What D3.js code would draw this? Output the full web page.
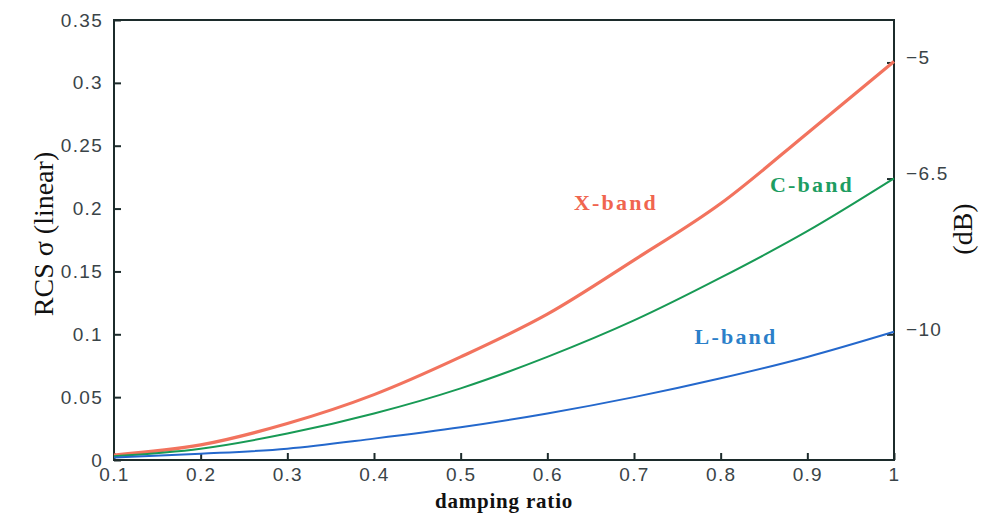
<!DOCTYPE html>
<html>
<head>
<meta charset="utf-8">
<script src="https://cdn.jsdelivr.net/npm/d3@7"></script>
<style>
  body { margin: 0; background: #fff; }
  svg { display: block; }
</style>
</head>
<body>
<svg></svg>
<script>
// RCS vs damping ratio, three radar bands

var width = 982;
var height = 516;
var margin = {left: 114, right: 88, top: 20, bottom: 56};

// data
var damping = [0.1, 0.2, 0.3, 0.4, 0.5, 0.6, 0.7, 0.8, 0.9, 1.0];
var xBand = [0.004, 0.012, 0.029, 0.052, 0.082, 0.116, 0.159, 0.204, 0.260, 0.317];
var cBand = [0.003, 0.009, 0.021, 0.037, 0.057, 0.082, 0.111, 0.145, 0.182, 0.224];
var lBand = [0.002, 0.005, 0.009, 0.017, 0.026, 0.037, 0.050, 0.065, 0.082, 0.102];
var xTicks = [0.1, 0.2, 0.3, 0.4, 0.5, 0.6, 0.7, 0.8, 0.9, 1];
var yTicks = [0, 0.05, 0.1, 0.15, 0.2, 0.25, 0.3, 0.35];
var dbTicks = [-5, -6.5, -10];

var series = [
  {name: "X-band", values: xBand, color: "#f2735e", width: 3.2, labelColor: "#f0654f", lx: 616, ly: 205},
  {name: "C-band", values: cBand, color: "#189a55", width: 2, labelColor: "#1d9d62", lx: 812, ly: 187},
  {name: "L-band", values: lBand, color: "#2468cc", width: 2, labelColor: "#2b7fc9", lx: 736, ly: 339}
];

var svg = d3.select("svg")
      .attr("width", width)
      .attr("height", height);

var xScale = d3.scaleLinear()
      .domain([0.1, 1])
      .range([margin.left, width - margin.right]);
var yScale = d3.scaleLinear()
      .domain([0, 0.35])
      .range([height - margin.bottom, margin.top]);

var axisColor = "#1c2b2b";
var tickFont = "'Liberation Sans', Arial, sans-serif";
var serif = "'Liberation Serif', 'Times New Roman', serif";

// frame
svg.append("rect")
      .attr("x", margin.left)
      .attr("y", margin.top)
      .attr("width", width - margin.left - margin.right)
      .attr("height", height - margin.top - margin.bottom)
      .attr("fill", "none")
      .attr("stroke", axisColor)
      .attr("stroke-width", 2);

// bottom axis, ticks inward
var xAxis = svg.append("g")
      .attr("transform", "translate(0," + (height - margin.bottom) + ")")
      .call(d3.axisBottom(xScale).tickValues(xTicks).tickSizeInner(-7).tickSizeOuter(0)
            .tickPadding(10).tickFormat(d3.format("")));

// left axis
var yAxis = svg.append("g")
      .attr("transform", "translate(" + margin.left + ",0)")
      .call(d3.axisLeft(yScale).tickValues(yTicks).tickSizeInner(-7).tickSizeOuter(0)
            .tickPadding(11).tickFormat(d3.format("")));

// right axis in dB, placed at the linear value of each dB level
var yRight = svg.append("g")
      .attr("transform", "translate(" + (width - margin.right) + ",0)")
      .call(d3.axisRight(yScale).tickValues(dbTicks.map(d => Math.pow(10, d / 10)))
            .tickSizeInner(-7).tickSizeOuter(0).tickPadding(12)
            .tickFormat((d, i) => "\u2212" + String(Math.abs(dbTicks[i]))));

[xAxis, yAxis, yRight].forEach(function(g) {
  g.select(".domain").remove();
  g.selectAll(".tick line").attr("stroke", axisColor).attr("stroke-width", 2);
  g.selectAll(".tick text")
        .attr("fill", "#3a4448")
        .style("font-family", tickFont)
        .style("font-size", "19px")
        .style("letter-spacing", "1.3px");
});
yRight.selectAll(".tick text").attr("dy", "0.05em");
xAxis.selectAll(".tick text").attr("dy", "0.6em");

// curves
var line = d3.line()
      .x((d, i) => xScale(damping[i]))
      .y(d => yScale(d))
      .curve(d3.curveMonotoneX);

series.forEach(function(s) {
  svg.append("path")
        .datum(s.values)
        .attr("fill", "none")
        .attr("stroke", s.color)
        .attr("stroke-width", s.width)
        .attr("stroke-linejoin", "round")
        .attr("d", line);
  svg.append("text")
        .attr("x", s.lx)
        .attr("y", s.ly)
        .attr("text-anchor", "middle")
        .attr("dominant-baseline", "middle")
        .attr("fill", s.labelColor)
        .style("font-family", serif)
        .style("font-weight", "bold")
        .style("font-size", "22px")
        .style("letter-spacing", "2.2px")
        .text(s.name);
});

// axis titles
svg.append("text")
      .attr("x", (margin.left + width - margin.right) / 2)
      .attr("y", 503)
      .attr("text-anchor", "middle")
      .attr("dominant-baseline", "middle")
      .attr("fill", "#111")
      .style("font-family", serif)
      .style("font-weight", "bold")
      .style("font-size", "21px")
      .style("letter-spacing", "0.8px")
      .text("damping ratio");

svg.append("text")
      .attr("transform", "translate(47," + 234 + ") rotate(-90)")
      .attr("text-anchor", "middle")
      .attr("dominant-baseline", "middle")
      .attr("fill", "#111")
      .style("font-family", serif)
      .style("font-size", "28px")
      .text("RCS \u03c3 (linear)");

svg.append("text")
      .attr("transform", "translate(966," + 229 + ") rotate(-90)")
      .attr("text-anchor", "middle")
      .attr("dominant-baseline", "middle")
      .attr("fill", "#111")
      .style("font-family", serif)
      .style("font-size", "28px")
      .text("(dB)");
</script>
</body>
</html>
